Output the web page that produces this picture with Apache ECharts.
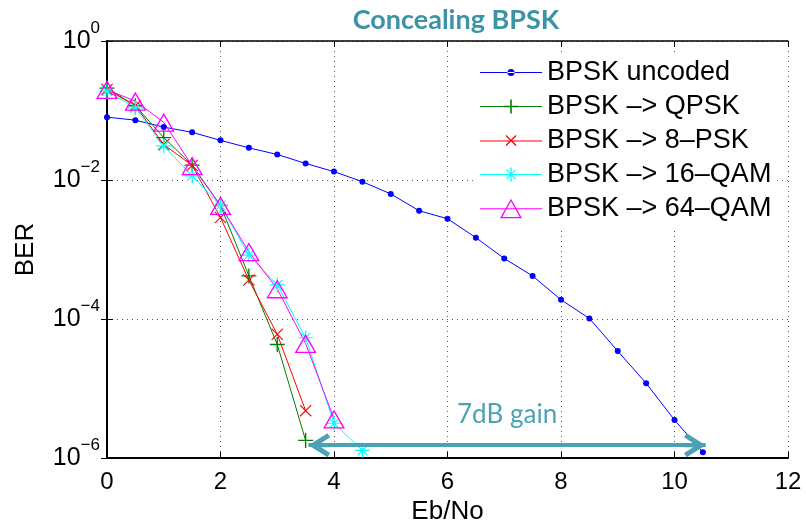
<!DOCTYPE html>
<html>
<head>
<meta charset="utf-8">
<script src="https://cdn.jsdelivr.net/npm/echarts@6/dist/echarts.min.js"></script>
<style>
  html, body { margin: 0; padding: 0; background: #fff; }
  #chart { width: 806px; height: 530px; }
</style>
</head>
<body>
<div id="chart"></div>
<script>
// Eb/No grid (dB)
var ebno = [0, 0.5, 1, 1.5, 2, 2.5, 3, 3.5, 4, 4.5, 5, 5.5, 6, 6.5, 7, 7.5, 8, 8.5, 9, 9.5, 10, 10.5];

// BER values
var berUncoded = [8.02e-2, 7.26e-2, 5.77e-2, 4.85e-2, 3.72e-2, 2.90e-2, 2.33e-2, 1.73e-2, 1.32e-2, 9.46e-3, 6.31e-3,
                  3.61e-3, 2.77e-3, 1.48e-3, 7.43e-4, 4.16e-4, 1.89e-4, 1.02e-4, 3.45e-5, 1.19e-5, 3.52e-6, 1.21e-6];
var berQpsk  = [2.10e-1, 1.17e-1, 4.07e-2, 1.64e-2, 4.30e-3, 4.17e-4, 4.30e-5, 1.79e-6];
var ber8psk  = [2.00e-1, 1.17e-1, 3.24e-2, 1.62e-2, 2.88e-3, 3.63e-4, 6.03e-5, 4.80e-6];
var ber16qam = [1.90e-1, 1.09e-1, 3.09e-2, 1.15e-2, 4.30e-3, 8.30e-4, 3.09e-4, 5.37e-5, 3.16e-6, 1.29e-6];
var ber64qam = [2.00e-1, 1.36e-1, 6.76e-2, 1.60e-2, 4.30e-3, 9.27e-4, 2.71e-4, 4.44e-5, 3.64e-6];

var seriesNames = ['BPSK uncoded', 'BPSK \u2013> QPSK', 'BPSK \u2013> 8\u2013PSK', 'BPSK \u2013> 16\u2013QAM', 'BPSK \u2013> 64\u2013QAM'];

// annotation: the 7 dB gain arrow
var gainFrom = 3.55, gainTo = 10.55, gainBer = 1.53e-6;
var gainText = '7dB gain';

var teal = '#4aa2b4';
var font = '"Liberation Sans", Arial, Helvetica, sans-serif';

// marker shapes (MATLAB style)
var plusPath = 'path://M0,9.1 H20 V10.9 H0 Z M9.1,0 H10.9 V20 H9.1 Z';
var crossPath = 'path://M0,1.3 L1.3,0 L20,18.7 L18.7,20 Z M18.7,0 L20,1.3 L1.3,20 L0,18.7 Z';
var starPath = 'path://M0,9.2 H20 V10.8 H0 Z M9.2,0 H10.8 V20 H9.2 Z M3,4.1 L4.1,3 L17,15.9 L15.9,17 Z M15.9,3 L17,4.1 L4.1,17 L3,15.9 Z';
var triPath = 'path://M10,0 L20,17 L0,17 Z M10,2.4 L2.1,15.8 L17.9,15.8 Z';
var arrowPath = 'path://M12,0 L24,19 L19.8,21.7 L12,9.35 L4.2,21.7 L0,19 Z M10,6 L14,6 L14,22 L10,22 Z';

// legend icons: line + marker in a 62 x 22 box
var lg = 'M0,10.4 H62 V11.6 H0 Z ';
var legendIcons = [
  'path://' + lg + 'M27.5,11 A3.5,3.5 0 1,0 34.5,11 A3.5,3.5 0 1,0 27.5,11 Z',
  'path://' + lg + 'M24,10.2 H38 V11.8 H24 Z M30.2,4 H31.8 V18 H30.2 Z',
  'path://' + lg + 'M25.5,5.9 L26.4,5 L36.5,15.1 L35.6,16 Z M35.6,5 L36.5,5.9 L26.4,16 L25.5,15.1 Z',
  'path://' + lg + 'M30.3,4 H31.7 V18 H30.3 Z M26,6.8 L26.8,6 L36,15.2 L35.2,16 Z M35.2,6 L36,6.8 L26.8,16 L26,15.2 Z',
  'path://' + lg + 'M31,1 L42,20.5 L20,20.5 Z M31,3.6 L22.3,19.2 L39.7,19.2 Z'
];

function pairs(ys) {
  return ys.map(function(v, i) { return [ebno[i], v]; });
}

function supLabel(v) {
  var e = Math.round(Math.log10(v));
  return '{b|10}{s|' + (e === 0 ? '0' : '\u2212' + (-e)) + '}';
}

var chart = echarts.init(document.getElementById('chart'), null, { renderer: 'canvas' });

var gridStyle = { show: true, lineStyle: { color: '#555', width: 1, type: [1, 4] } };

chart.setOption({
  animation: false,
  backgroundColor: '#fff',
  title: {
    text: 'Concealing BPSK',
    left: 451,
    top: 2,
    textAlign: 'center',
    textStyle: { fontFamily: 'Lato', fontWeight: 'bold', fontSize: 27, color: '#3c93a6' }
  },
  grid: { left: 107, right: 18, top: 41, bottom: 69, containLabel: false },
  legend: {
    orient: 'vertical',
    left: 474,
    top: 53,
    padding: [6, 6],
    backgroundColor: '#fff',
    itemWidth: 62,
    itemHeight: 22,
    itemGap: 7,
    itemStyle: { borderWidth: 0 },
    textStyle: { fontFamily: font, fontSize: 27, lineHeight: 26, color: '#000' },
    data: seriesNames.map(function(n, i) { return { name: n, icon: legendIcons[i] }; })
  },
  xAxis: [{
    type: 'value',
    min: 0, max: 12, interval: 2,
    name: 'Eb/No',
    nameLocation: 'middle',
    nameGap: 41,
    nameTextStyle: { fontFamily: font, fontSize: 26, color: '#000' },
    axisLine: { lineStyle: { color: '#000', width: 2 } },
    axisTick: { inside: true, length: 6, lineStyle: { color: '#000' } },
    axisLabel: { fontFamily: font, fontSize: 24, color: '#000', margin: 12 },
    splitLine: gridStyle
  }, {
    type: 'value',
    position: 'top',
    min: 0, max: 12, interval: 2,
    axisLine: { lineStyle: { color: '#000', width: 1.5 } },
    axisTick: { inside: true, length: 6, lineStyle: { color: '#000' } },
    axisLabel: { show: false },
    splitLine: { show: false }
  }],
  yAxis: [{
    type: 'log',
    logBase: 10,
    min: 1e-6, max: 1, interval: 2,
    name: 'BER',
    nameLocation: 'middle',
    nameGap: 68,
    nameTextStyle: { fontFamily: font, fontSize: 26, color: '#000' },
    axisLine: { show: true, lineStyle: { color: '#000', width: 2 } },
    axisTick: { show: true, inside: true, length: 6, lineStyle: { color: '#000' } },
    axisLabel: {
      margin: 7,
      formatter: supLabel,
      rich: {
        b: { fontFamily: font, fontSize: 25, color: '#000' },
        s: { fontFamily: font, fontSize: 17, color: '#000', padding: [0, 0, 26, 0] }
      }
    },
    splitLine: gridStyle
  }, {
    type: 'log',
    logBase: 10,
    position: 'right',
    min: 1e-6, max: 1, interval: 2,
    axisLine: { show: true, lineStyle: { color: '#000', width: 1.5 } },
    axisTick: { show: true, inside: true, length: 6, lineStyle: { color: '#000' } },
    axisLabel: { show: false },
    splitLine: { show: false }
  }],
  series: [{
    name: seriesNames[0],
    type: 'line',
    data: pairs(berUncoded),
    symbol: 'circle',
    symbolSize: 6,
    lineStyle: { color: '#0000ff', width: 1 },
    itemStyle: { color: '#0000ff', borderWidth: 0 },
    markLine: {
      silent: true,
      symbol: [arrowPath, arrowPath],
      symbolSize: [24, 22],
      symbolOffset: [[0, 11], [0, 11]],
      lineStyle: { color: teal, width: 4, type: 'solid' },
      itemStyle: { color: teal },
      label: {
        show: true,
        position: 'middle',
        distance: 18,
        formatter: gainText,
        fontFamily: 'Lato',
        fontSize: 26,
        color: teal
      },
      data: [[{ coord: [gainFrom, gainBer] }, { coord: [gainTo, gainBer] }]]
    }
  }, {
    name: seriesNames[1],
    type: 'line',
    data: pairs(berQpsk),
    symbol: plusPath,
    symbolSize: 15,
    lineStyle: { color: '#008000', width: 1 },
    itemStyle: { color: '#008000', borderWidth: 0 }
  }, {
    name: seriesNames[2],
    type: 'line',
    data: pairs(ber8psk),
    symbol: crossPath,
    symbolSize: 12,
    lineStyle: { color: '#ff0000', width: 1 },
    itemStyle: { color: '#ff0000', borderWidth: 0 }
  }, {
    name: seriesNames[3],
    type: 'line',
    data: pairs(ber16qam),
    symbol: starPath,
    symbolSize: 15,
    lineStyle: { color: '#00ffff', width: 1 },
    itemStyle: { color: '#00ffff', borderWidth: 0 }
  }, {
    name: seriesNames[4],
    type: 'line',
    data: pairs(ber64qam),
    symbol: triPath,
    symbolSize: [22, 19],
    lineStyle: { color: '#ff00ff', width: 1 },
    itemStyle: { color: '#ff00ff', borderWidth: 0 }
  }]
});
window.addEventListener('resize', function() { chart.resize(); });
</script>
</body>
</html>
